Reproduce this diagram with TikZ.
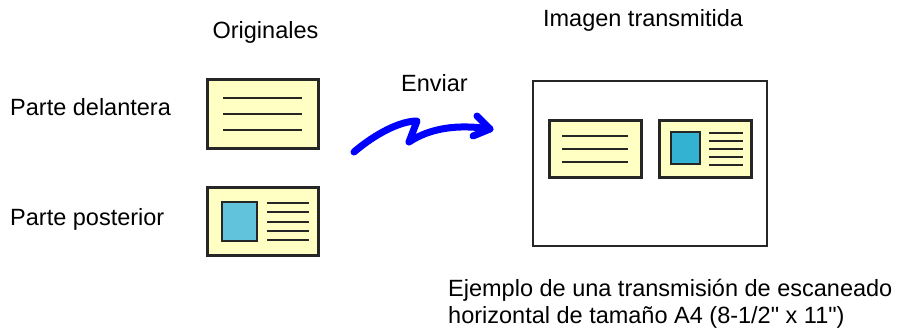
\documentclass[tikz,border=0pt]{standalone}
\usepackage{fontspec}
\setmainfont{Liberation Sans}
\usepackage{xcolor}
\usetikzlibrary{positioning}

\definecolor{cardyellow}{HTML}{FFFFC4}
\definecolor{photoblue}{HTML}{62C3DC}
\definecolor{photodark}{HTML}{33B3D1}
\definecolor{sendblue}{HTML}{0000FF}

\begin{document}
\begin{tikzpicture}[x=1pt, y=-1pt,
		label/.style={font=\fontsize{23.5}{27}\selectfont, inner sep=0pt},
		card/.style={draw=black!85, line width=3pt, fill=cardyellow, inner sep=0pt},
		photo/.style={draw=black!85, line width=2.8pt, inner sep=0pt},
		textline/.style={draw=black!85, line width=2.2pt}]
		\useasboundingbox (0,0) rectangle (899,329);
		
		% Labels
		\node[label, anchor=base] (orig) at (265.5,39) {Originales};
		\node[label, anchor=base] (recv) at (643,27) {Imagen transmitida};
		\node[label, anchor=base west] (frontlbl) at (10,115) {Parte delantera};
		\node[label, anchor=base west] (backlbl) at (10,225) {Parte posterior};
		\node[label, anchor=base] (send) at (434.5,92) {Enviar};
		\node[label, anchor=base west, align=left] (note) at (448,323)
		{Ejemplo de una transmisión de escaneado\\horizontal de tamaño A4 (8-1/2\textquotedbl{} x 11\textquotedbl)};
		
		% Originals
		\node[card, minimum width=111pt, minimum height=69pt] (front) at (262.5,113.5) {};
		\foreach \y in {98,114,130}
		\draw[textline] (223,\y) -- (302,\y);
		\node[card, minimum width=111pt, minimum height=68pt] (back) at (262.5,221) {};
		\node[photo, fill=photoblue, minimum width=35pt, minimum height=39pt] (backphoto) at (239.5,221.5) {};
		\foreach \y in {203,212,222,231,240}
		\draw[textline] (267,\y) -- (309,\y);
		
		% Transmitted image
		\node[draw=black!85, line width=2.5pt, fill=white, minimum width=234pt, minimum height=165pt] (page) at (650,163.5) {};
		\node[card, minimum width=92pt, minimum height=57pt] (pagefront) at (595,148.5) {};
		\foreach \y in {136,149,162}
		\draw[textline] (562,\y) -- (628,\y);
		\node[card, minimum width=92pt, minimum height=57pt] (pageback) at (705,148.5) {};
		\node[photo, fill=photodark, minimum width=29pt, minimum height=32pt] (pagephoto) at (685.5,148) {};
		\foreach \y in {133,141,149,157,165}
		\draw[textline] (709,\y) -- (743,\y);
		
		% Send arrow
		\coordinate (sendstart) at (354,152);
		\coordinate (kinktop) at (417,121);
		\coordinate (kinkbot) at (409,142);
		\coordinate (sendtip) at (490,129);
		\draw[sendblue, line width=7pt, line cap=round, line join=round]
		(sendstart) .. controls (375,134) and (400,121) .. (kinktop) -- (kinkbot)
		.. controls (430,128) and (458,124) .. (sendtip);
		\draw[sendblue, line width=7pt, line cap=round, line join=round]
		(477,116) -- (sendtip) -- (473,136);
	\end{tikzpicture}
\end{document}
